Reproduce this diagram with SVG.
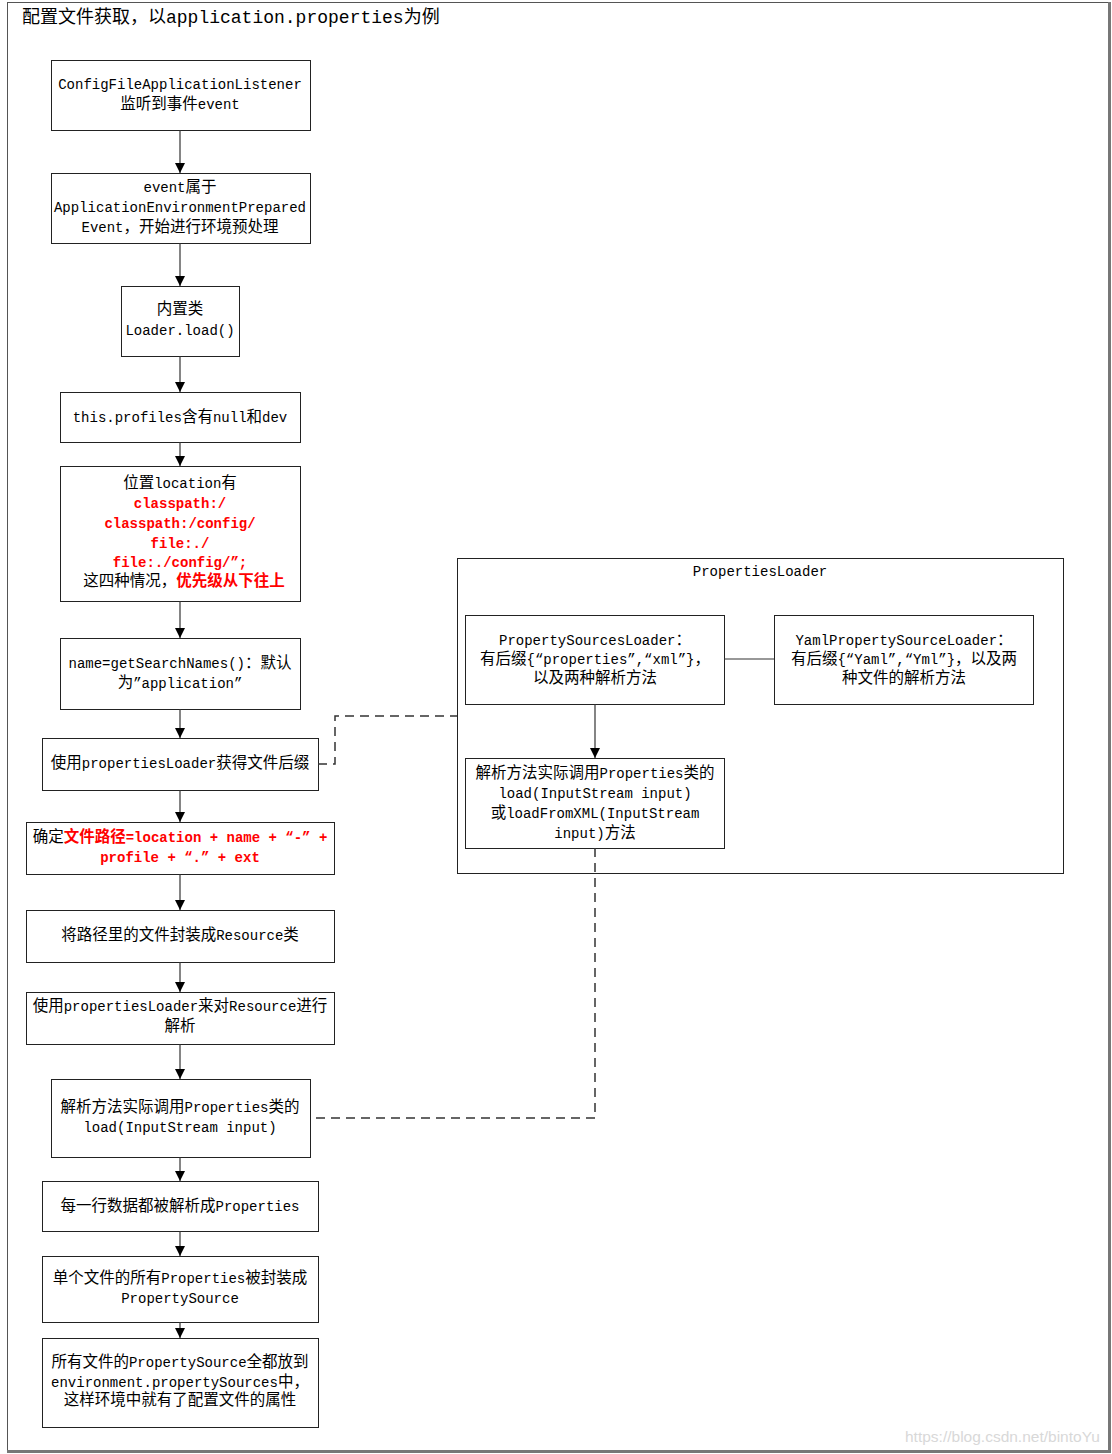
<svg xmlns="http://www.w3.org/2000/svg" width="1112" height="1454" viewBox="0 0 1112 1454">
<style>
text{font-family:"Liberation Mono","Noto Sans CJK SC",monospace;font-size:14px;fill:#000;text-anchor:middle}
.c{font-size:15.5px}
.title{font-size:18px;text-anchor:start}
.red{fill:#ff0000;font-weight:bold}
.box{fill:#fff;stroke:#222;stroke-width:1}
.grp{fill:none;stroke:#222;stroke-width:1}
.con{fill:none;stroke:#333;stroke-width:1.2}
.dash{fill:none;stroke:#333;stroke-width:1.5;stroke-dasharray:9 6}
.wm{font-family:"Liberation Sans",Arial,sans-serif;font-size:15.5px;fill:#d8d8d8;text-anchor:start}
</style>
<defs>
<marker id="arr" markerUnits="userSpaceOnUse" markerWidth="12" markerHeight="12" refX="10" refY="5" orient="auto">
<path d="M0,0 L10,5 L0,10 Z" fill="#000"/>
</marker>
</defs>
<rect x="0" y="0" width="1112" height="1454" fill="#fff"/>
<g id="frame">
<rect x="7.5" y="2.5" width="1101" height="1448" fill="none" stroke="#555" stroke-width="1"/>
<line x1="1109.5" y1="2" x2="1109.5" y2="1453" stroke="#777" stroke-width="3"/>
<line x1="7" y1="1451.5" x2="1111" y2="1451.5" stroke="#777" stroke-width="3"/>
<text class="title" x="22" y="23">配置文件获取，以application.properties为例</text>
</g>
<g id="propertiesLoader">
<rect class="grp" x="457.5" y="558.5" width="606" height="315"/>
<text x="760" y="576">PropertiesLoader</text>
</g>
<g id="propertySourcesLoader">
<rect class="box" x="465.5" y="615.5" width="259" height="89"/>
<text x="595" y="645">PropertySourcesLoader<tspan class="c">：</tspan></text>
<text x="595" y="664"><tspan class="c">有后缀</tspan>{“properties”,“xml”}<tspan class="c">，</tspan></text>
<text x="595" y="683" class="c">以及两种解析方法</text>
</g>
<g id="yamlLoader">
<rect class="box" x="774.5" y="615.5" width="259" height="89"/>
<text x="904" y="645">YamlPropertySourceLoader<tspan class="c">：</tspan></text>
<text x="904" y="664"><tspan class="c">有后缀</tspan>{“Yaml”,“Yml”}<tspan class="c">，以及两</tspan></text>
<text x="904" y="683" class="c">种文件的解析方法</text>
</g>
<g id="parseMethod">
<rect class="box" x="465.5" y="758.5" width="259" height="90"/>
<text x="595" y="778"><tspan class="c">解析方法实际调用</tspan>Properties<tspan class="c">类的</tspan></text>
<text x="595" y="798">load(InputStream input)</text>
<text x="595" y="818"><tspan class="c">或</tspan>loadFromXML(InputStream</text>
<text x="595" y="838">input)<tspan class="c">方法</tspan></text>
</g>
<g id="n1">
<rect class="box" x="51.5" y="60.5" width="259" height="70"/>
<text x="180" y="89">ConfigFileApplicationListener</text>
<text x="180" y="109"><tspan class="c">监听到事件</tspan>event</text>
</g>
<g id="n2">
<rect class="box" x="51.5" y="173.5" width="259" height="70"/>
<text x="180" y="192">event<tspan class="c">属于</tspan></text>
<text x="180" y="212">ApplicationEnvironmentPrepared</text>
<text x="180" y="232">Event<tspan class="c">，开始进行环境预处理</tspan></text>
</g>
<g id="n3">
<rect class="box" x="121.5" y="286.5" width="118" height="70"/>
<text x="180" y="314" class="c">内置类</text>
<text x="180" y="335">Loader.load()</text>
</g>
<g id="n4">
<rect class="box" x="60.5" y="392.5" width="240" height="50"/>
<text x="180" y="422">this.profiles<tspan class="c">含有</tspan>null<tspan class="c">和</tspan>dev</text>
</g>
<g id="n5">
<rect class="box" x="60.5" y="466.5" width="240" height="135"/>
<text x="180" y="488"><tspan class="c">位置</tspan>location<tspan class="c">有</tspan></text>
<text x="180" y="508" class="red">classpath:/</text>
<text x="180" y="528" class="red">classpath:/config/</text>
<text x="180" y="548" class="red">file:./</text>
<text x="180" y="567" class="red">file:./config/”;</text>
<text x="184" y="586"><tspan class="c">这四种情况，</tspan><tspan class="red c">优先级从下往上</tspan></text>
</g>
<g id="n6">
<rect class="box" x="60.5" y="638.5" width="240" height="71"/>
<text x="180" y="668">name=getSearchNames()<tspan class="c">：默认</tspan></text>
<text x="180" y="688"><tspan class="c">为</tspan>”application”</text>
</g>
<g id="n7">
<rect class="box" x="42.5" y="738.5" width="276" height="52"/>
<text x="180" y="768"><tspan class="c">使用</tspan>propertiesLoader<tspan class="c">获得文件后缀</tspan></text>
</g>
<g id="n8">
<rect class="box" x="26.5" y="822.5" width="308" height="52"/>
<text x="180" y="842"><tspan class="c">确定</tspan><tspan class="red"><tspan class="c">文件路径</tspan>=location + name + “-” +</tspan></text>
<text x="180" y="862" class="red">profile + “.” + ext</text>
</g>
<g id="n9">
<rect class="box" x="26.5" y="910.5" width="308" height="52"/>
<text x="180" y="940"><tspan class="c">将路径里的文件封装成</tspan>Resource<tspan class="c">类</tspan></text>
</g>
<g id="n10">
<rect class="box" x="26.5" y="992.5" width="308" height="52"/>
<text x="180" y="1011"><tspan class="c">使用</tspan>propertiesLoader<tspan class="c">来对</tspan>Resource<tspan class="c">进行</tspan></text>
<text x="180" y="1031" class="c">解析</text>
</g>
<g id="n11">
<rect class="box" x="51.5" y="1079.5" width="259" height="78"/>
<text x="180" y="1112"><tspan class="c">解析方法实际调用</tspan>Properties<tspan class="c">类的</tspan></text>
<text x="180" y="1132">load(InputStream input)</text>
</g>
<g id="n12">
<rect class="box" x="42.5" y="1181.5" width="276" height="50"/>
<text x="180" y="1211"><tspan class="c">每一行数据都被解析成</tspan>Properties</text>
</g>
<g id="n13">
<rect class="box" x="42.5" y="1256.5" width="276" height="66"/>
<text x="180" y="1283"><tspan class="c">单个文件的所有</tspan>Properties<tspan class="c">被封装成</tspan></text>
<text x="180" y="1303">PropertySource</text>
</g>
<g id="n14">
<rect class="box" x="42.5" y="1338.5" width="276" height="89"/>
<text x="180" y="1367"><tspan class="c">所有文件的</tspan>PropertySource<tspan class="c">全都放到</tspan></text>
<text x="180" y="1387">environment.propertySources<tspan class="c">中，</tspan></text>
<text x="180" y="1405" class="c">这样环境中就有了配置文件的属性</text>
</g>
<g id="connectors">
<line class="con" x1="180" y1="130" x2="180" y2="173" marker-end="url(#arr)"/>
<line class="con" x1="180" y1="243" x2="180" y2="286" marker-end="url(#arr)"/>
<line class="con" x1="180" y1="356" x2="180" y2="392" marker-end="url(#arr)"/>
<line class="con" x1="180" y1="442" x2="180" y2="466" marker-end="url(#arr)"/>
<line class="con" x1="180" y1="601" x2="180" y2="638" marker-end="url(#arr)"/>
<line class="con" x1="180" y1="709" x2="180" y2="738" marker-end="url(#arr)"/>
<line class="con" x1="180" y1="790" x2="180" y2="822" marker-end="url(#arr)"/>
<line class="con" x1="180" y1="874" x2="180" y2="910" marker-end="url(#arr)"/>
<line class="con" x1="180" y1="962" x2="180" y2="992" marker-end="url(#arr)"/>
<line class="con" x1="180" y1="1044" x2="180" y2="1079" marker-end="url(#arr)"/>
<line class="con" x1="180" y1="1157" x2="180" y2="1181" marker-end="url(#arr)"/>
<line class="con" x1="180" y1="1231" x2="180" y2="1256" marker-end="url(#arr)"/>
<line class="con" x1="180" y1="1322" x2="180" y2="1338" marker-end="url(#arr)"/>
<line class="con" x1="595" y1="704" x2="595" y2="758" marker-end="url(#arr)"/>
<line class="con" x1="724" y1="659" x2="774" y2="659"/>
<path class="dash" d="M318,764 H335 V716 H457"/>
<path class="dash" d="M595,848 V1118 H310"/>
</g>
<text class="wm" x="905" y="1442">https://blog.csdn.net/bintoYu</text>
</svg>
